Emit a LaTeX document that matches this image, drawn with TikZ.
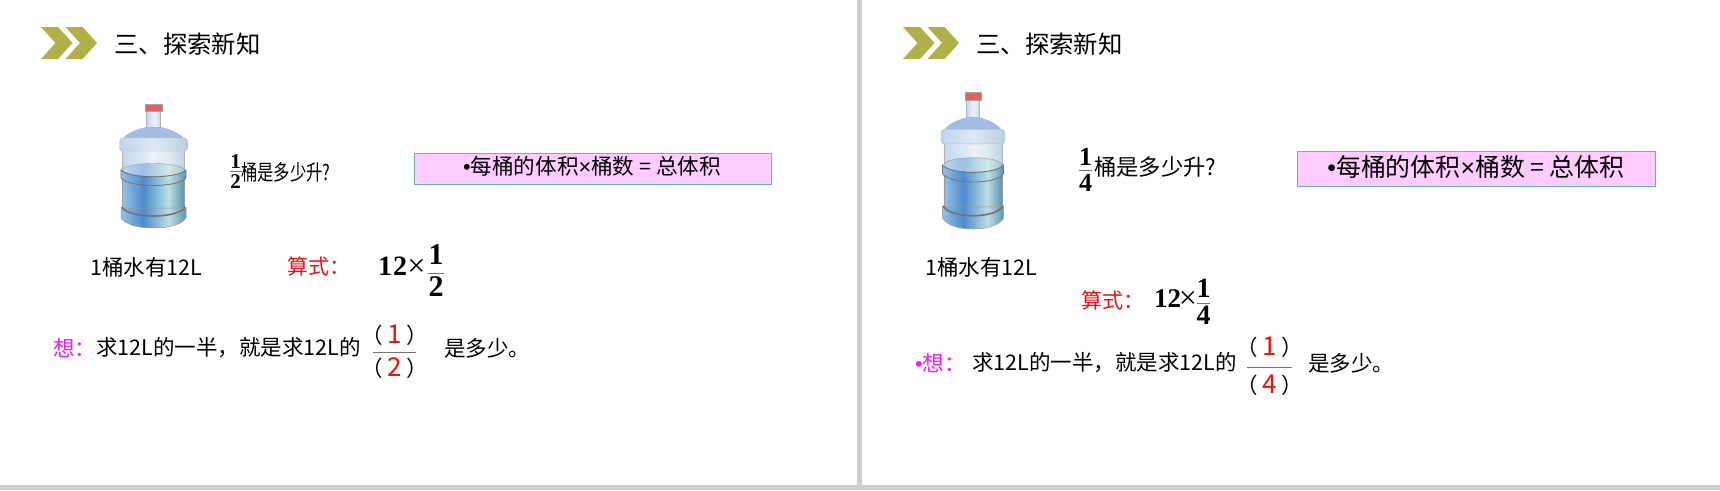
\documentclass[tikz,border=0pt]{standalone}
\usepackage{fontspec}
\setmainfont{Noto Sans CJK SC}
\newfontfamily\serifnum{Liberation Serif}[Ligatures=TeX]
\newfontfamily\sanssym{Liberation Sans}
\definecolor{chevron}{HTML}{B0B048}
\definecolor{barline}{HTML}{CFCFCF}
\definecolor{boxfill}{HTML}{FFCCFF}
\definecolor{boxedge}{HTML}{66BB99}
\definecolor{thinkpink}{HTML}{F01AF0}
\definecolor{sumred}{HTML}{F01010}
\definecolor{jugdome}{HTML}{A4BCE4}
\definecolor{jugcap}{HTML}{E85F60}
\definecolor{glassa}{HTML}{C4D6F0}
\definecolor{glassb}{HTML}{EAF1FA}
\definecolor{glassc}{HTML}{DCECF0}
\definecolor{glassd}{HTML}{C0D2E4}
\definecolor{surfa}{HTML}{BCD4EE}
\definecolor{surfb}{HTML}{9CC0E4}
\definecolor{surfc}{HTML}{D2E8EA}
\definecolor{surfd}{HTML}{A2C4D2}
\definecolor{watera}{HTML}{96BEE4}
\definecolor{waterb}{HTML}{4C8CCD}
\definecolor{waterc}{HTML}{BEDEE2}
\definecolor{waterd}{HTML}{5C94B0}
\definecolor{rima}{HTML}{BED4EC}
\definecolor{rimb}{HTML}{DEEAF6}
\definecolor{rimc}{HTML}{B6D0DE}
\pgfdeclarehorizontalshading{jugglass}{100bp}{color(0bp)=(glassa);color(25bp)=(glassa);color(50bp)=(glassb);color(62bp)=(glassc);color(75bp)=(glassd);color(100bp)=(glassd)}
\pgfdeclarehorizontalshading{jugsurface}{100bp}{color(0bp)=(surfa);color(25bp)=(surfa);color(42bp)=(surfb);color(62bp)=(surfc);color(75bp)=(surfd);color(100bp)=(surfd)}
\pgfdeclarehorizontalshading{jugwater}{100bp}{color(0bp)=(watera);color(25bp)=(watera);color(42bp)=(waterb);color(62bp)=(waterc);color(75bp)=(waterd);color(100bp)=(waterd)}
\pgfdeclarehorizontalshading{jugrim}{100bp}{color(0bp)=(rima);color(25bp)=(rima);color(50bp)=(rimb);color(75bp)=(rimc);color(100bp)=(rimc)}
\newcommand{\dotmark}{{\sanssym •}}
\newcommand{\timesmark}{{\sanssym ×}}
\newcommand{\blank}[1]{（\hspace{.2em}\textcolor{sumred}{\fontsize{26}{26}\selectfont #1}\hspace{.2em}）}
\tikzset{
    textlabel/.style={anchor=west, inner sep=0pt, font=\fontsize{#1}{#1}\selectfont},
    numeral/.style={inner sep=0pt, font=\serifnum\bfseries\fontsize{#1}{#1}\selectfont},
    timessign/.style={inner sep=0pt, font=\serifnum\fontsize{32}{32}\selectfont},
    formulabox/.style={draw=boxedge, line width=1pt, fill=boxfill, inner sep=0pt},
    panelbar/.style={fill=barline, draw=none},
    fracbar/.style={draw=black!55, line width=1pt},
    chevronmark/.pic={
        \fill[chevron] (0,0) -- (17,0) -- (31.5,16) -- (17,32) -- (0,32) -- (14.5,16) -- cycle;
    },
    waterjug/.pic={
        \path[draw=black!30, line width=.4pt, shading=jugglass] (-31,46) rectangle (31,66);
        \path[draw=black!40, line width=.4pt, shading=jugwater] (-31,66) rectangle (31,106);
        \path[draw=black!40, line width=.5pt, shading=jugwater] (-32.5,104) -- (32.5,104) -- (32.5,114) .. controls (28,121) and (14,124) .. (0,124) .. controls (-14,124) and (-28,121) .. (-32.5,114) -- cycle;
        \draw[black!55, line width=1.6pt] (-32,103) .. controls (-24,115) and (24,115) .. (32,103);
        \path[draw=black!40, line width=.4pt, shading=jugsurface] (0,66) ellipse (31 and 6.5);
        \path[draw=black!55, line width=.8pt, shading=jugwater] (-32.5,66) .. controls (-24,75) and (24,75) .. (32.5,66) -- (32.5,74) .. controls (24,84) and (-24,84) .. (-32.5,74) -- cycle;
        \fill[jugdome] (-30,34) .. controls (-26,28) and (-12,24) .. (-7,23) -- (7,23) .. controls (12,24) and (26,28) .. (30,34) -- cycle;
        \path[draw=black!30, line width=.4pt, shading=jugglass] (-7,7) rectangle (7,23);
        \path[draw=black!25, line width=.4pt, rounded corners=3pt, shading=jugrim] (-34,34) rectangle (34,47);
        \path[draw=black!35, line width=.4pt, fill=jugcap] (-8.5,0) rectangle (8.5,7);
    }
}
\begin{document}
\begin{tikzpicture}[x=1pt,y=-1pt]
    \useasboundingbox (0,0) rectangle (1720,490);
    \fill[white] (0,0) rectangle (1720,490);
    \fill[panelbar] (857,0) rectangle (862,490);
    \fill[panelbar] (0,485) rectangle (1720,490);

    % left panel
    \path (41,27) pic {chevronmark};
    \path (65.5,27) pic {chevronmark};
    \node[textlabel=24.4] (titleL) at (114,44.5) {三、探索新知};
    \path (153.5,104) pic {waterjug};
    \node[textlabel=21.5] (volumeL) at (90,267) {1桶水有12L};
    \node[numeral=21] (questiontopL) at (235.5,162) {1};
    \node[numeral=21] (questionbotL) at (235.5,181.5) {2};
    \coordinate (questionbarLa) at (229.5,171.5);
    \coordinate (questionbarLb) at (241.5,171.5);
    \draw[fracbar] (questionbarLa) -- (questionbarLb);
    \node[textlabel=21.5, xscale=.76, transform shape] (questionL) at (241,172) {桶是多少升?};
    \node[formulabox, minimum width=357pt, minimum height=31pt] (boxL) at (592.5,168.5) {};
    \node[textlabel=21.6, anchor=center] (ruleL) at (592,166) {\dotmark 每桶的体积\timesmark 桶数 = 总体积};
    \node[textlabel=21, text=sumred] (suanL) at (287,266) {算式：};
    \node[numeral=28, anchor=west] (twelveL) at (378,266) {1\hspace{1pt}2};
    \node[timessign] (timesL) at (416.5,268) {×};
    \node[numeral=30] (calctopL) at (436,254.5) {1};
    \node[numeral=30] (calcbotL) at (436,286.5) {2};
    \coordinate (calcbarLa) at (428,273);
    \coordinate (calcbarLb) at (444,273);
    \draw[fracbar] (calcbarLa) -- (calcbarLb);
    \node[textlabel=21.5, text=thinkpink] (thinkL) at (53,348) {想：};
    \node[textlabel=21.5] (sentenceL) at (96,348) {求12L的一半，就是求12L的};
    \node[textlabel=21.5, anchor=center] (blanktopL) at (395,335) {\blank{1}};
    \node[textlabel=21.5, anchor=center] (blankbotL) at (395,368) {\blank{2}};
    \coordinate (blankbarLa) at (373,352);
    \coordinate (blankbarLb) at (416,352);
    \draw[fracbar] (blankbarLa) -- (blankbarLb);
    \node[textlabel=21.5] (restL) at (444,348) {是多少。};

    % right panel
    \path (903,27) pic {chevronmark};
    \path (927.5,27) pic {chevronmark};
    \node[textlabel=24.4] (titleR) at (976,44.5) {三、探索新知};
    \path (973,92) pic[xscale=.94, yscale=1.105] {waterjug};
    \node[textlabel=21.5] (volumeR) at (925,267) {1桶水有12L};
    \node[numeral=26] (questiontopR) at (1085.5,156.5) {1};
    \node[numeral=26] (questionbotR) at (1085.5,182.5) {4};
    \coordinate (questionbarRa) at (1079,170);
    \coordinate (questionbarRb) at (1092,170);
    \draw[fracbar] (questionbarRa) -- (questionbarRb);
    \node[textlabel=22.3] (questionR) at (1094,167) {桶是多少升?};
    \node[formulabox, minimum width=358pt, minimum height=35pt] (boxR) at (1476.5,168.5) {};
    \node[textlabel=24.9, anchor=center] (ruleR) at (1476,167) {\dotmark 每桶的体积\timesmark 桶数 = 总体积};
    \node[textlabel=21, text=sumred] (suanR) at (1081,300) {算式：};
    \node[numeral=27, anchor=west] (twelveR) at (1154,299) {12};
    \node[timessign] (timesR) at (1188,300) {×};
    \node[numeral=28] (calctopR) at (1203.5,288) {1};
    \node[numeral=28] (calcbotR) at (1203.5,315) {4};
    \coordinate (calcbarRa) at (1197,303);
    \coordinate (calcbarRb) at (1210,303);
    \draw[fracbar] (calcbarRa) -- (calcbarRb);
    \node[textlabel=21.5, text=thinkpink] (thinkR) at (915,363) {\dotmark 想：};
    \node[textlabel=21.5] (sentenceR) at (972,363) {求12L的一半，就是求12L的};
    \node[textlabel=21.5, anchor=center] (blanktopR) at (1269.5,347) {\blank{1}};
    \node[textlabel=21.5, anchor=center] (blankbotR) at (1269.5,385) {\blank{4}};
    \coordinate (blankbarRa) at (1247,367);
    \coordinate (blankbarRb) at (1292,367);
    \draw[fracbar] (blankbarRa) -- (blankbarRb);
    \node[textlabel=21.5] (restR) at (1308,363) {是多少。};
\end{tikzpicture}
\end{document}
